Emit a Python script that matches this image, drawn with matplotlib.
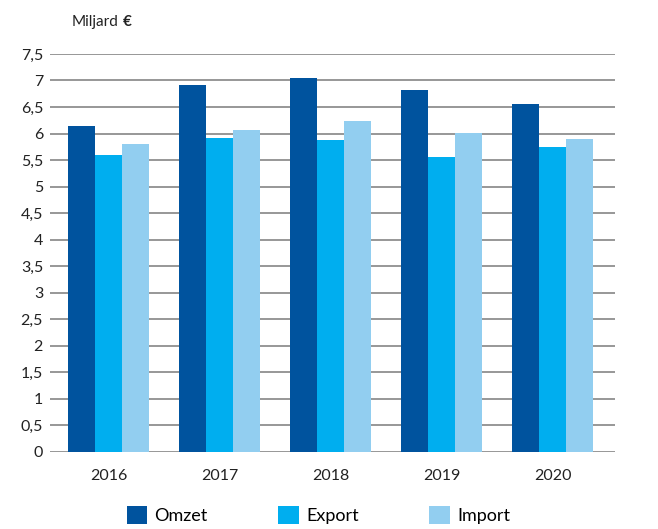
import numpy as np
import matplotlib
matplotlib.use('Agg')
import matplotlib.pyplot as plt
from matplotlib.ticker import FuncFormatter, MultipleLocator

# data (miljard euro)
years = ['2016', '2017', '2018', '2019', '2020']
omzet = [6.15, 6.92, 7.04, 6.83, 6.55]
export = [5.60, 5.92, 5.87, 5.55, 5.74]
imports = [5.81, 6.06, 6.23, 6.02, 5.89]

series = ['Omzet', 'Export', 'Import']
colors = ['#00539E', '#00AEEF', '#92CEF0']

plt.rcParams['font.family'] = ['Lato', 'DejaVu Sans']

fig = plt.figure(figsize=(6.58, 5.29), dpi=100)
ax = fig.add_axes([0.076, 0.1456, 0.859, 0.7524])

x = np.arange(len(years))
w = 0.243
for i, (vals, name, col) in enumerate(zip([omzet, export, imports], series, colors)):
    ax.bar(x + (i - 1) * w, vals, width=w, color=col, label=name, zorder=3)

ax.set_ylim(0, 7.5)
ax.set_xlim(-0.527, 4.563)
ax.yaxis.set_major_locator(MultipleLocator(0.5))
ax.yaxis.set_major_formatter(FuncFormatter(lambda v, p: ('%g' % v).replace('.', ',')))
ax.set_xticks(x)
ax.set_xticklabels(years)
ax.grid(axis='y', color='#7a7a7a', linewidth=1.1, zorder=0)
for s in ax.spines.values():
    s.set_visible(False)
ax.tick_params(axis='both', length=0, labelsize=11.5, colors='#222222')
ax.tick_params(axis='y', pad=5)
ax.tick_params(axis='x', pad=12)

# title: "Miljard" regular, euro sign bold right after it
t = fig.text(0.109, 0.958, 'Miljard', fontsize=11, color='#222222', va='center')
ax.annotate('€', xy=(1, 0.5), xycoords=t, xytext=(3, 0), textcoords='offset points',
            fontsize=11, color='#222222', va='center', fontweight='bold')

fig.legend(loc='center', bbox_to_anchor=(0.484, 0.026), ncol=3, frameon=False,
           fontsize=13, handlelength=1.15, handleheight=1.15, handletextpad=0.4,
           columnspacing=3.9, borderaxespad=0)

fig.savefig('out.png', dpi=100)
